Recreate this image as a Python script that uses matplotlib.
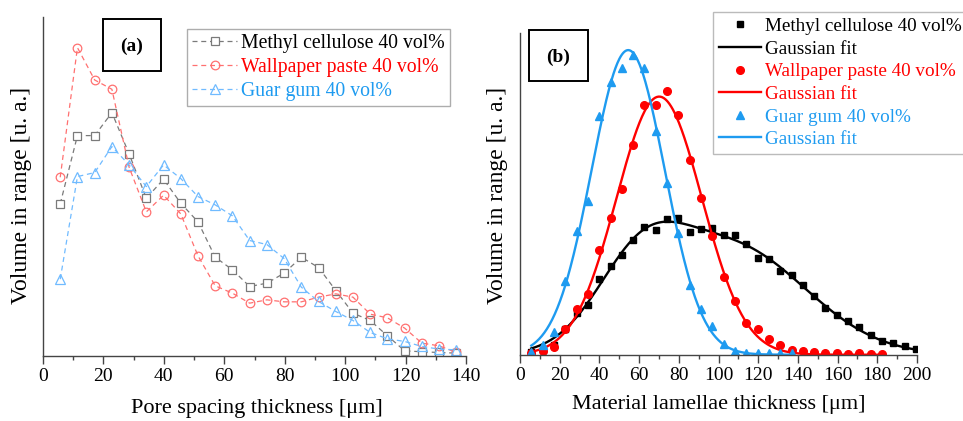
import numpy as np
import matplotlib
matplotlib.use("Agg")
import matplotlib.pyplot as plt
from matplotlib.patches import Rectangle

# ---------------- data ----------------
step_um = 5.7
# Panel (a): pore spacing thickness distributions
x_a = step_um * np.arange(1, 25)
methyl_a = [456, 661, 661, 730, 606, 473, 530, 458, 402, 296, 258, 208,
            218, 248, 296, 265, 196, 128, 106, 60, 15, 12, 10, 8]
wallpaper_a = [536, 925, 828, 800, 566, 432, 482, 426, 300, 210, 188, 158,
               168, 162, 162, 176, 186, 176, 125, 114, 83, 38, 30, 10]
guar_a = [230, 538, 550, 628, 573, 508, 573, 532, 478, 453, 420, 346,
          334, 292, 206, 163, 133, 106, 70, 51, 43, 28, 20, 18]

# Panel (b): material lamellae thickness distributions
methyl_b = [8, 14, 30, 77, 124, 148, 226, 267, 298, 344, 384, 373, 408, 411,
            368, 378, 380, 358, 358, 332, 290, 286, 252, 240, 208, 175, 139,
            118, 102, 82, 60, 40, 34, 26, 17]
wallpaper_b = [4, 11, 23, 78, 138, 183, 313, 410, 497, 630, 748, 748, 792,
               718, 585, 470, 355, 232, 160, 94, 76, 48, 30, 14, 10, 8, 6, 4,
               3, 4, 3, 3]
guar_b = [8, 29, 67, 221, 372, 462, 716, 818, 860, 900, 860, 670, 516, 366,
          208, 138, 86, 32, 12, 6, 5, 5, 5, 5]
x_methyl_b = step_um * np.arange(1, len(methyl_b) + 1)
x_wall_b = step_um * np.arange(1, len(wallpaper_b) + 1)
x_guar_b = step_um * np.arange(1, len(guar_b) + 1)

# initial guesses for the Gaussian fits (amplitude, centre, sigma)
p0_methyl = [320, 62, 22, 260, 115, 38]
p0_wall = [790, 70, 22]
p0_guar = [900, 54, 19]

xticks_a = list(range(0, 141, 20))
xticks_b = list(range(0, 201, 20))

labels_a = ["Methyl cellulose 40 vol%", "Wallpaper paste 40 vol%", "Guar gum 40 vol%"]
labels_b = ["Methyl cellulose 40 vol%", "Gaussian fit", "Wallpaper paste 40 vol%",
            "Gaussian fit", "Guar gum 40 vol%", "Gaussian fit"]


# ---------------- Gaussian fitting (Levenberg-Marquardt) ----------------
def gauss(x, p):
    x = np.asarray(x, float)
    y = np.zeros_like(x)
    for a, c, s in np.reshape(p, (-1, 3)):
        y += a * np.exp(-0.5 * ((x - c) / s) ** 2)
    return y


def fit_gauss(x, y, p0, iters=300):
    x = np.asarray(x, float)
    y = np.asarray(y, float)
    p = np.array(p0, float)
    lam = 1e-3
    for _ in range(iters):
        r = y - gauss(x, p)
        J = np.empty((len(x), len(p)))
        for j in range(len(p)):
            h = 1e-6 * max(abs(p[j]), 1.0)
            dp = np.zeros_like(p)
            dp[j] = h
            J[:, j] = (gauss(x, p + dp) - gauss(x, p)) / h
        A = J.T @ J
        g = J.T @ r
        try:
            stp = np.linalg.solve(A + lam * np.diag(np.diag(A) + 1e-12), g)
        except np.linalg.LinAlgError:
            break
        pn = p + stp
        if np.sum((y - gauss(x, pn)) ** 2) < np.sum(r ** 2):
            p = pn
            lam *= 0.3
        else:
            lam *= 10
    return p


p_methyl = fit_gauss(x_methyl_b, methyl_b, p0_methyl)
p_wall = fit_gauss(x_wall_b, wallpaper_b, p0_wall)
p_guar = fit_gauss(x_guar_b, guar_b, p0_guar)

# ---------------- style ----------------
plt.rcParams['font.family'] = ['Liberation Serif', 'DejaVu Serif']

W, H = 963, 421
fig = plt.figure(figsize=(W / 100, H / 100), dpi=100)


def fx(px):
    return px / W


def fy(py):
    return 1 - py / H


spine_col = '#444444'
BLUE = '#1E9BF0'

# ---------------- panel (a) ----------------
ax1 = fig.add_axes([fx(43), fy(355.8), fx(466) - fx(43), fy(17) - fy(355.8)])
ax1.plot(x_a, methyl_a, ls=(0, (4, 3)), lw=0.9, color='#7a7a7a', marker='s',
         ms=5.3, mfc='white', mec='#7a7a7a', mew=0.9, label=labels_a[0])
ax1.plot(x_a, wallpaper_a, ls=(0, (4, 3)), lw=0.9, color='#ff7070', marker='o',
         ms=6.2, mfc='none', mec='#ff7070', mew=0.9, label=labels_a[1])
ax1.plot(x_a, guar_a, ls=(0, (4, 3)), lw=0.9, color='#70bbff', marker='^',
         ms=6.8, mfc='none', mec='#70bbff', mew=0.9, label=labels_a[2])
ax1.set_xlim(0, 140)
ax1.set_ylim(0, 1017)
ax1.set_xticks(xticks_a)
ax1.set_xticks(range(10, 140, 20), minor=True)
ax1.set_yticks([])

# ---------------- panel (b) ----------------
ax2 = fig.add_axes([fx(520), fy(354.7), fx(917) - fx(520), fy(33) - fy(354.7)])
ax2.plot(x_methyl_b, methyl_b, ls='none', marker='s', ms=4.6, color='black',
         label=labels_b[0])
xs = np.linspace(x_methyl_b[0], x_methyl_b[-1], 400)
ax2.plot(xs, gauss(xs, p_methyl), color='black', lw=1.7, label=labels_b[1])
ax2.plot(x_wall_b, wallpaper_b, ls='none', marker='o', ms=5.5, color='red',
         label=labels_b[2])
xs = np.linspace(x_wall_b[0], x_wall_b[-1], 400)
ax2.plot(xs, gauss(xs, p_wall), color='red', lw=1.7, label=labels_b[3])
ax2.plot(x_guar_b, guar_b, ls='none', marker='^', ms=5.5, color=BLUE,
         label=labels_b[4])
xs = np.linspace(x_guar_b[0], x_guar_b[-1], 400)
ax2.plot(xs, gauss(xs, p_guar), color=BLUE, lw=1.7, label=labels_b[5])
ax2.set_xlim(0, 200)
ax2.set_ylim(0, 965)
ax2.set_xticks(xticks_b)
ax2.set_xticks(range(10, 200, 20), minor=True)
ax2.set_yticks([])

for ax in (ax1, ax2):
    for side in ('top', 'right'):
        ax.spines[side].set_visible(False)
    for side in ('left', 'bottom'):
        ax.spines[side].set_color(spine_col)
        ax.spines[side].set_linewidth(1.0)
    ax.tick_params(axis='x', which='major', direction='out', length=6,
                   width=1.0, color=spine_col, labelsize=14, pad=3)
    ax.tick_params(axis='x', which='minor', direction='out', length=3,
                   width=1.0, color=spine_col)
    ax.patch.set_alpha(0)

# axis labels
fig.text(fx(257), fy(408), "Pore spacing thickness [\u03bcm]", ha='center',
         va='center', fontsize=16)
fig.text(fx(719), fy(405), "Material lamellae thickness [\u03bcm]", ha='center',
         va='center', fontsize=16)
fig.text(fx(22), fy(195), "Volume in range [u. a.]", ha='center', va='center',
         rotation=90, fontsize=17)
fig.text(fx(498), fy(195), "Volume in range [u. a.]", ha='center', va='center',
         rotation=90, fontsize=17)

# panel tags
fig.add_artist(Rectangle((fx(103), fy(71)), fx(161) - fx(103), fy(19) - fy(71),
                         transform=fig.transFigure, fill=False, lw=1.4,
                         edgecolor='black'))
fig.text(fx(132), fy(46), "(a)", ha='center', va='center', fontsize=14,
         fontweight='bold')
fig.add_artist(Rectangle((fx(529), fy(81)), fx(588) - fx(529), fy(30) - fy(81),
                         transform=fig.transFigure, fill=False, lw=1.4,
                         edgecolor='black'))
fig.text(fx(558.5), fy(57), "(b)", ha='center', va='center', fontsize=14,
         fontweight='bold')

# legends
leg1 = ax1.legend(loc='upper left', bbox_to_anchor=(fx(187), fy(29)),
                  bbox_transform=fig.transFigure, fontsize=14.2,
                  frameon=True, fancybox=False, edgecolor='#999999',
                  handlelength=2.3, handletextpad=0.2, labelspacing=0.25,
                  borderpad=0.25, borderaxespad=0)
leg1.get_frame().set_linewidth(1.0)
for t, c in zip(leg1.get_texts(), ['black', 'red', BLUE]):
    t.set_color(c)

leg2 = ax2.legend(loc='upper left', bbox_to_anchor=(fx(713), fy(12)),
                  bbox_transform=fig.transFigure, fontsize=13.8,
                  frameon=True, fancybox=False, edgecolor='#aaaaaa',
                  handlelength=2.2, handletextpad=0.2, labelspacing=0.27,
                  borderpad=0.3, borderaxespad=0)
leg2.get_frame().set_linewidth(1.0)
for t, c in zip(leg2.get_texts(), ['black', 'black', 'red', 'red', BLUE, BLUE]):
    t.set_color(c)

fig.savefig("out.png", dpi=100)
